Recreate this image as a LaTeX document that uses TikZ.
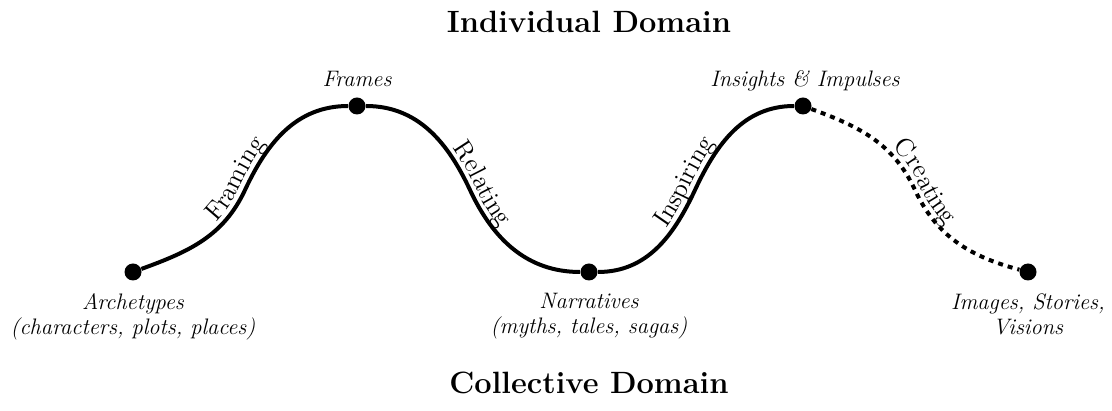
\documentclass[tikz,border=0pt]{standalone}
\usetikzlibrary{positioning,decorations.text}
\newcommand\curvefont{\fontsize{13}{15}\selectfont}
\tikzset{
  stage/.style={circle,fill,minimum size=8.5pt,inner sep=0pt},
  stagelbl/.style={font=\itshape\fontsize{11.2}{12.5}\selectfont,align=center,inner sep=1pt},
  domainlbl/.style={font=\bfseries\fontsize{15.4}{17}\selectfont},
  wave/.style={line width=2pt},
  openwave/.style={line width=2pt,dash pattern=on 2.5pt off 2.5pt},
  along/.style={decorate,decoration={text along path,text align=center,
    raise=3pt,text={|\curvefont|#1}}}
}

\begin{document}
\begin{tikzpicture}[x=0.5pt,y=0.5pt]
\useasboundingbox (0,0) rectangle (1112,411);

% Stages along the wave
\node[stage] (arch)   at (133, 139) {};
\node[stage] (frames) at (357, 305) {};
\node[stage] (narr)   at (589, 139) {};
\node[stage] (ins)    at (803, 305) {};
\node[stage] (img)    at (1028,139) {};

% Turning points of the wave
\coordinate (t1) at (245, 221);
\coordinate (t2) at (470, 221);
\coordinate (t3) at (695, 221);
\coordinate (t4) at (915, 221);

% Stage labels
\node[stagelbl, below=5pt of arch]  {Archetypes\\(characters, plots, places)};
\node[stagelbl, anchor=base] (framesl) at (357, 324) {Frames};
\node[stagelbl, below=5pt of narr]  {Narratives\\(myths, tales, sagas)};
\node[stagelbl, anchor=base] (insl) at (805, 324) {Insights \& Impulses};
\node[stagelbl, below=5pt of img]   {Images, Stories,\\Visions};

% Domains
\node[domainlbl] (indiv) at (589, 389) {Individual Domain};
\node[domainlbl] (coll)  at (589, 28)  {Collective Domain};

% The wave
\draw[wave] (arch) to[out=20,in=-115] (t1) to[out=65,in=180] (frames)
  to[out=0,in=115] (t2) to[out=-65,in=180] (narr)
  to[out=0,in=-115] (t3) to[out=65,in=180] (ins);
\draw[openwave] (ins) to[out=-20,in=115] (t4) to[out=-65,in=165] (img);

% Process names
\path[along=Framing]   (arch) to[out=20,in=-115] (t1) to[out=65,in=180] (frames);
\path[along=Relating]  (frames) to[out=0,in=115] (t2) to[out=-65,in=180] (narr);
\path[along=Inspiring] (narr) to[out=0,in=-115] (t3) to[out=65,in=180] (ins);
\path[along=Creating]  (ins) to[out=-20,in=115] (t4) to[out=-65,in=165] (img);

\end{tikzpicture}
\end{document}
